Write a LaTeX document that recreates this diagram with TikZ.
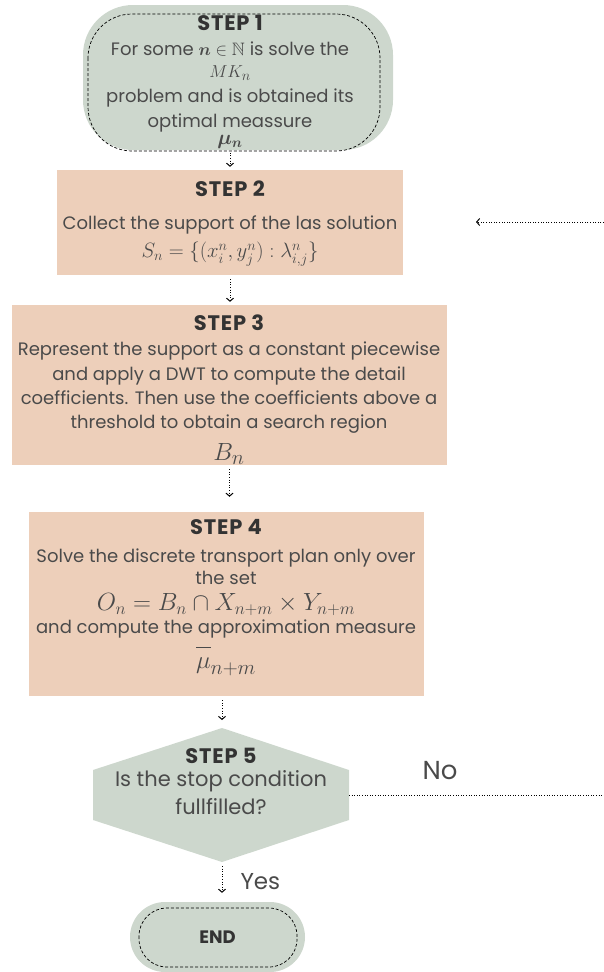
\documentclass[tikz,border=0pt]{standalone}
\usepackage{amsmath,amssymb,bm}
\usepackage{fontspec}
\setmainfont{Poppins}
\usetikzlibrary{arrows.meta}
\definecolor{sage}{HTML}{CDD7CD}
\definecolor{peach}{HTML}{EDCFBA}
\definecolor{ink}{HTML}{4A4A4A}
\definecolor{headink}{HTML}{333333}
\newcommand{\stephead}[1]{{\fontsize{21}{24}\selectfont\bfseries\addfontfeature{LetterSpace=4}\color{headink}#1}}

\begin{document}
\begin{tikzpicture}[x=1pt,y=-1pt,
  box/.style={fill=peach,inner sep=0pt},
  stadium/.style={fill=sage,inner sep=0pt},
  txt/.style={align=center,text=ink,inner sep=0pt,font=\fontsize{18}{25}\selectfont},
  rim/.style={line width=0.7pt,dash pattern=on 3pt off 2pt},
  flow/.style={line width=1pt,dash pattern=on 1pt off 1.6pt,-{Straight Barb[length=3pt,width=7pt]},shorten <=4pt,shorten >=3pt}]
  \useasboundingbox (0,0) rectangle (604,972);
  % step 1
  \node[stadium,rounded corners=50pt,minimum width=310pt,minimum height=145pt] (s1) at (238,77.5){};
  \draw[rim,rounded corners=44pt] (88,14) rectangle (380,151);
  \node[txt,anchor=north] (s1text) at (230,15){\stephead{STEP 1}\\
    For some $\boldsymbol{n}\in\mathbb{N}$ is solve the\\[-3pt]
    {\fontsize{19}{20}\selectfont$MK_n$}\\[0pt]
    problem and is obtained its\\[0pt]
    optimal meassure\\[-8pt]
    {\fontsize{21}{22}\selectfont$\boldsymbol{\mu_n}$}};
  % steps 2-4
  \node[box,minimum width=346pt,minimum height=105pt] (s2) at (230,222.5){};
  \node[txt,anchor=north] (s2text) at (230,181){\stephead{STEP 2}\\[8pt]
    Collect the support of the las solution\\[3pt]
    {\fontsize{21}{22}\selectfont$S_n=\{(x_i^n,y_j^n):\lambda_{i,j}^n\}$}};
  \node[box,minimum width=435pt,minimum height=160pt] (s3) at (229.5,385){};
  \node[txt,anchor=north] (s3text) at (229,315){\stephead{STEP 3}\\[0pt]
    Represent the support as a constant piecewise\\
    and apply a DWT to compute the detail\\[-1pt]
    coefficients. Then use the coefficients above a\\[-1pt]
    threshold to obtain a search region\\[7pt]
    {\fontsize{31}{31}\selectfont$B_n$}};
  \node[box,minimum width=395pt,minimum height=184pt] (s4) at (226.5,604){};
  \node[txt,anchor=north] (s4text) at (226,519){\stephead{STEP 4}\\[3pt]
    Solve the discrete transport plan only over\\[-3pt]
    the set\\[1pt]
    {\fontsize{24}{25}\selectfont$O_n=B_n\cap X_{n+m}\times Y_{n+m}$}\\[-2pt]
    and compute the approximation measure\\[7pt]
    {\fontsize{28}{28}\selectfont$\overline{\vphantom{b}\mu}_{n+m}$}};
  % step 5
  \coordinate (h5top) at (222,728);
  \coordinate (h5bot) at (222,862);
  \coordinate (h5right) at (349,795);
  \fill[sage] (h5top) -- (349,770) -- (349,820) -- (h5bot) -- (93,820) -- (93,770) -- cycle;
  \node[txt,anchor=north,font=\fontsize{21}{25}\selectfont] (s5) at (221,748){\stephead{STEP 5}\\[-2pt]
    Is the stop condition\\[3pt]
    fullfilled?};
  % end
  \node[stadium,rounded corners=35pt,minimum width=175pt,minimum height=70pt,font=\fontsize{18}{20}\selectfont\bfseries,text=headink] (e) at (217.5,937){END};
  \draw[rim,rounded corners=28pt] (139,908) rectangle (297,967);
  % connectors
  \draw[flow] (s2.north |- s1text.south) -- (s2.north);
  \draw[flow] (s2.south) -- (s2.south |- s3.north);
  \draw[flow,shorten >=15pt] (s3.south) -- (s3.south |- s4.north);
  \draw[flow,shorten >=8pt] (s4.south -| h5top) -- (h5top);
  \draw[flow,shorten >=9pt] (h5bot) -- (e.north -| h5bot) node[midway,right=18pt,txt,font=\fontsize{23}{25}\selectfont] (yes){Yes};
  \coordinate (noend) at (604,795);
  \coordinate (backstart) at (604,222);
  \coordinate (backend) at (476,222);
  \draw[flow,-,shorten <=0pt,shorten >=0pt] (h5right) -- (noend);
  \node[txt,font=\fontsize{26}{28}\selectfont] (no) at (440,771){No};
  \draw[flow,shorten <=0pt,shorten >=0pt] (backstart) -- (backend);
\end{tikzpicture}
\end{document}
